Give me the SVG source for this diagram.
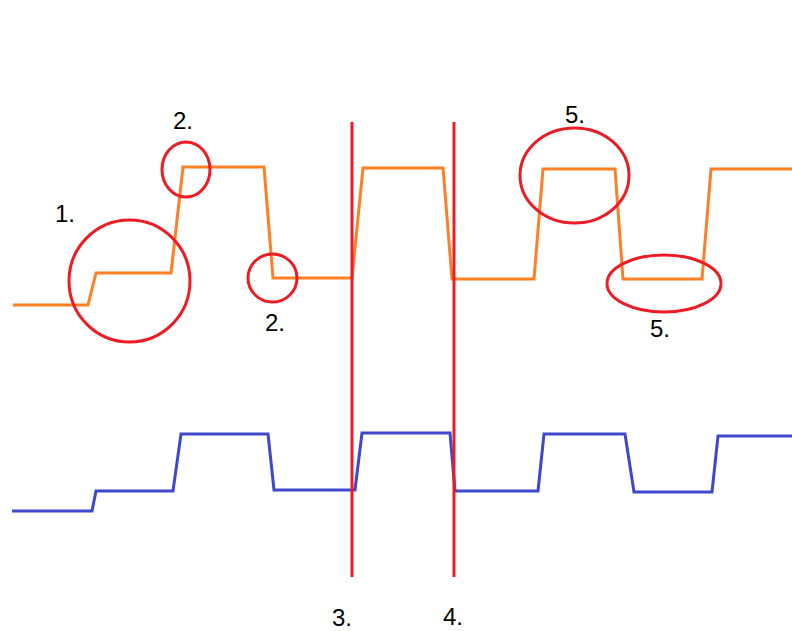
<svg xmlns="http://www.w3.org/2000/svg" width="792" height="631" viewBox="0 0 792 631">
<style>
.sig{fill:none;stroke-width:3;stroke-linejoin:miter}
.orange{stroke:#FF7F27}
.blue{stroke:#3F48CC}
.mark{fill:none;stroke:#ED1C24;stroke-width:3}
.lbl{font-family:"Liberation Sans",Arial,sans-serif;font-size:24px;fill:#000}
</style>
<rect width="792" height="631" fill="#fff"/>
<g id="orange-signal">
<polyline class="sig orange" points="13,305 88,305 96,273 171,273 183,167 264,167 273,278 352,278 363,168 443,168 452,279 534,279 543,169 615,169 623,279 702,279 711,169 792,169"/>
</g>
<g id="blue-signal">
<polyline class="sig blue" points="12,511 92,511 96,491 173,491 181,434 268,434 274,490 355,490 362,433 450,433 455,491 538,491 544,434 625,434 634,492 712,492 718,436 792,436"/>
</g>
<g id="markers">
<line class="mark" x1="352" y1="122" x2="352" y2="577"/>
<line class="mark" x1="454" y1="122" x2="454" y2="577"/>
<ellipse class="mark" cx="129.5" cy="281" rx="60.5" ry="61"/>
<ellipse class="mark" cx="186" cy="169.5" rx="24" ry="27.5"/>
<ellipse class="mark" cx="272.5" cy="278" rx="24.5" ry="24"/>
<ellipse class="mark" cx="574.5" cy="175.5" rx="54.5" ry="47.5"/>
<ellipse class="mark" cx="664" cy="283.5" rx="57" ry="28.5"/>
</g>
<g id="labels">
<text class="lbl" x="55" y="222">1.</text>
<text class="lbl" x="173" y="129">2.</text>
<text class="lbl" x="265" y="331">2.</text>
<text class="lbl" x="565" y="123">5.</text>
<text class="lbl" x="650" y="337">5.</text>
<text class="lbl" x="332" y="626">3.</text>
<text class="lbl" x="443" y="625">4.</text>
</g>
</svg>
